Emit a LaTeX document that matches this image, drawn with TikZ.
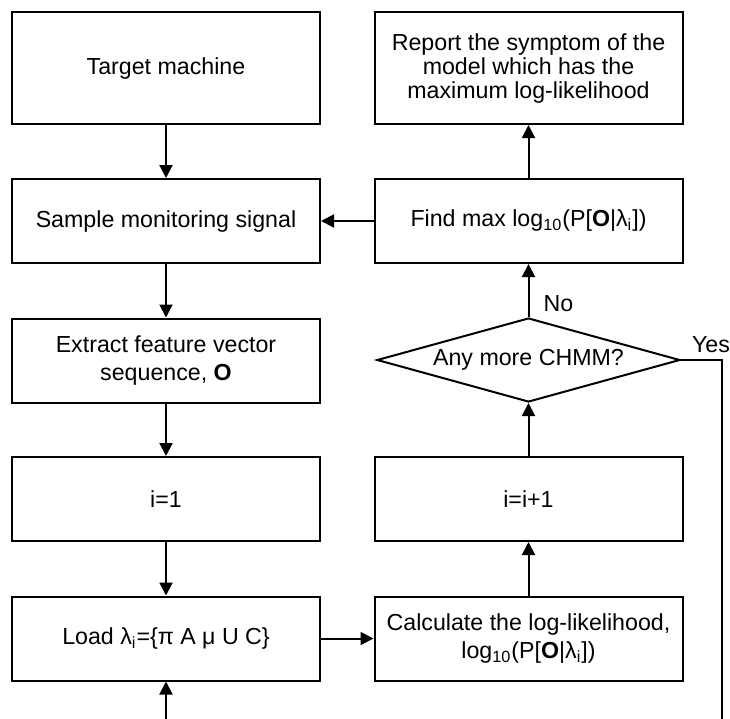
\documentclass[tikz,border=0pt]{standalone}
\usepackage{fontspec}
\setmainfont{Liberation Sans}
\usetikzlibrary{arrows.meta, shapes.geometric}

\begin{document}
\begin{tikzpicture}[x=0.5pt, y=-0.5pt, line width=1pt,
  >={Triangle[length=6.5pt, width=6.5pt]},
  font=\fontsize{11.6}{12}\selectfont,
  box/.style={draw, minimum width=154pt, minimum height=42pt, align=center, inner sep=2pt},
  tallbox/.style={box, minimum height=56pt},
  test/.style={draw, diamond, aspect=3.6, minimum width=151.5pt, minimum height=42pt, inner sep=0pt}]

\useasboundingbox (0,0) rectangle (730,719);

% Left column
\node [tallbox] (target) at (166,68) {Target machine};
\node [box] (sample) at (166,221) {Sample monitoring signal};
\node [box] (extract) at (166,360.5) {Extract feature vector\\[2pt] sequence, \textbf{O}};
\node [box] (init) at (166,499) {i=1};
\node [box] (load) at (166,638.5) {Load λ\textsubscript{i}=\{π A μ U C\}};

% Right column
\node [tallbox] (report) at (528.5,68) {Report the symptom of the\\ model which has the\\ maximum log-likelihood};
\node [box] (findmax) at (528.5,221) {Find max log\textsubscript{10}(P[\textbf{O}|λ\textsubscript{i}])};
\node [test] (more) at (528.5,360) {Any more CHMM?};
\node [box] (incr) at (528.5,499) {i=i+1};
\node [box] (calc) at (528.5,638.5) {Calculate the log-likelihood,\\[2pt] log\textsubscript{10}(P[\textbf{O}|λ\textsubscript{i}])};

% Chain down the left side
\foreach \a/\b in {target/sample, sample/extract, extract/init, init/load}
  \draw [->] (\a) -- (\b);

% Loop back up the right side
\foreach \a/\b in {calc/incr, incr/more, more/findmax, findmax/report}
  \draw [->] (\a) -- (\b);

\draw [->] (load) -- (calc);
\draw [->] (findmax) -- (sample);

% Branch labels
\node [anchor=base west, inner sep=0pt] (no) at ([shift={(7pt,3pt)}]more.north) {No};
\node [anchor=base west, inner sep=0pt] (yes) at ([shift={(5pt,4pt)}]more.east) {Yes};

% Yes branch leaves the page, loop enters Load from below
\coordinate (yesend) at (722,719);
\coordinate (loopin) at (166,719);
\draw (more.east) -- (more.east -| yesend) -- (yesend);
\draw [->] (loopin) -- (load);

\end{tikzpicture}
\end{document}
